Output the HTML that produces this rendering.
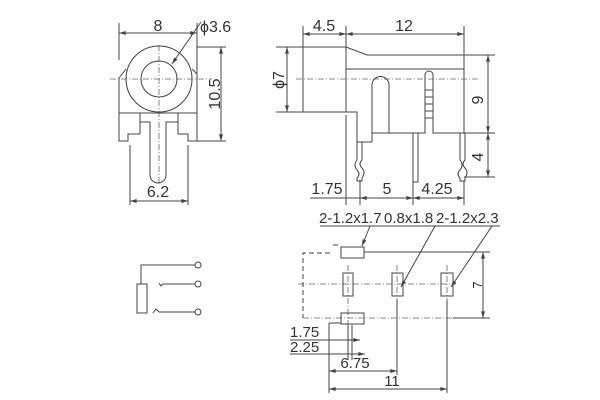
<!DOCTYPE html>
<html><head><style>html,body{margin:0;padding:0;background:#fff}svg{display:block}</style></head><body>
<svg width="600" height="400" viewBox="0 0 600 400" xmlns="http://www.w3.org/2000/svg" font-family="Liberation Sans, sans-serif" fill="none" stroke="#444" stroke-width="1">
<defs><marker id="a" viewBox="0 0 10 6" refX="10" refY="3" markerWidth="8" markerHeight="4" orient="auto-start-reverse"><path d="M0,0L10,3L0,6z" fill="#444" stroke="none"/></marker></defs>
<g stroke-dasharray="6,2,1,2" stroke="#666" stroke-width="0.8">
<line x1="159" y1="45" x2="159" y2="185"/><line x1="110" y1="79" x2="212" y2="79"/>
<line x1="296" y1="79" x2="478" y2="79"/>
<line x1="298" y1="284" x2="456" y2="284"/><line x1="303" y1="318" x2="490" y2="318"/>
<line x1="348" y1="265" x2="348" y2="330"/><line x1="397" y1="265" x2="397" y2="330"/><line x1="447" y1="265" x2="447" y2="330"/>
</g>
<!-- front view -->
<circle cx="159" cy="79" r="33"/><circle cx="159" cy="79" r="18"/>
<path d="M119,113V78L126,69M197,47V113M192,69L197,74M119,113H197"/>
<path d="M119,113V141H128V134H140V122H150V175A8,8 0 0 0 166,175V122H178V134H188V141H197V113M140,113V122M178,113V122"/>
<path d="M119,23V60M197,23V60M119,33H197M197,47H226M197,141H226M221,47V141M130,145V205M188,145V205M130,201H188" />
<line x1="119" y1="33" x2="197" y2="33" marker-start="url(#a)" marker-end="url(#a)"/>
<line x1="221" y1="47" x2="221" y2="141" marker-start="url(#a)" marker-end="url(#a)"/>
<line x1="130" y1="201" x2="188" y2="201" marker-start="url(#a)" marker-end="url(#a)"/>
<line x1="201" y1="22" x2="172" y2="64" marker-end="url(#a)"/>
<g fill="#333" stroke="none" font-size="16">
<text x="158" y="31" text-anchor="middle">8</text>
<text x="200" y="32">ϕ3.6</text>
<text x="158" y="197" text-anchor="middle">6.2</text>
<text transform="translate(220,94) rotate(-90)" text-anchor="middle">10.5</text>
</g>
<!-- side view -->
<path d="M303,47H346L367,55H464V133H433V75A4,4 0 0 0 425,75V133H372V142H357V112H303V47M346,55V112M346,69H464"/>
<path d="M372,133V85A8.5,8.5 0 0 1 389,85V133"/>
<path d="M425,90H433M425,97H433M425,104H433M425,111H433M425,118H433"/>
<path d="M357,142V160Q353,165 357,170Q361,174 357,178V181H362V178Q366,172 362,168Q358,164 362,160V142M413,133V182H418V133M460,133V160Q464,165 460,170Q456,174 460,178V181H465V178Q469,172 465,168Q461,164 465,160V133"/>
<path d="M303,26V47M346,26V112M464,26V55M303,34H464M276,47H303M276,112H303M287,47V112M464,55H495M464,133H495M464,177H495M488,55V177M346,115V205M360,180V205M413,182V205M464,181V205M310,198H464"/>
<line x1="303" y1="34" x2="346" y2="34" marker-start="url(#a)" marker-end="url(#a)"/>
<line x1="346" y1="34" x2="464" y2="34" marker-start="url(#a)" marker-end="url(#a)"/>
<line x1="287" y1="47" x2="287" y2="112" marker-start="url(#a)" marker-end="url(#a)"/>
<line x1="488" y1="55" x2="488" y2="133" marker-start="url(#a)" marker-end="url(#a)"/>
<line x1="488" y1="133" x2="488" y2="177" marker-start="url(#a)" marker-end="url(#a)"/>
<line x1="360" y1="198" x2="413" y2="198" marker-start="url(#a)" marker-end="url(#a)"/>
<line x1="413" y1="198" x2="464" y2="198" marker-start="url(#a)" marker-end="url(#a)"/>
<g fill="#333" stroke="none" font-size="16">
<text x="324" y="31" text-anchor="middle">4.5</text>
<text x="404" y="31" text-anchor="middle">12</text>
<text transform="translate(284,80) rotate(-90)" text-anchor="middle">ϕ7</text>
<text transform="translate(483,100) rotate(-90)" text-anchor="middle">9</text>
<text transform="translate(483,157) rotate(-90)" text-anchor="middle">4</text>
<text x="327" y="194" text-anchor="middle">1.75</text>
<text x="387" y="194" text-anchor="middle">5</text>
<text x="437" y="194" text-anchor="middle">4.25</text>
</g>
<!-- footprint -->
<path d="M330,253H303V318" stroke-dasharray="5,3"/>
<path d="M333,245H341" stroke-dasharray="5,3"/>
<rect x="341" y="247" width="23" height="11"/><rect x="341" y="313" width="23" height="11"/>
<rect x="343" y="273" width="10" height="23"/><rect x="392" y="273" width="11" height="23"/><rect x="441" y="273" width="12" height="23"/>
<path d="M364,252H490M453,318H490M483,252V318M329,323V393M329,323H341M397,300V375M447,300V393M348,325V360M352,325V360M320,226H500"/>
<line x1="483" y1="252" x2="483" y2="318" marker-start="url(#a)" marker-end="url(#a)"/>
<line x1="290" y1="340" x2="360" y2="340" marker-end="url(#a)"/>
<line x1="290" y1="354" x2="365" y2="354" marker-end="url(#a)"/>
<line x1="329" y1="371" x2="397" y2="371" marker-start="url(#a)" marker-end="url(#a)"/>
<line x1="329" y1="389" x2="447" y2="389" marker-start="url(#a)" marker-end="url(#a)"/>
<line x1="370" y1="226" x2="362" y2="246" marker-end="url(#a)"/>
<line x1="435" y1="226" x2="401" y2="287" marker-end="url(#a)"/>
<line x1="492" y1="226" x2="451" y2="287" marker-end="url(#a)"/>
<g fill="#333" stroke="none" font-size="15">
<text x="319" y="223">2-1.2x1.7</text>
<text x="384" y="223">0.8x1.8</text>
<text x="436" y="223">2-1.2x2.3</text>
<text transform="translate(482,285) rotate(-90)" text-anchor="middle" font-size="13">7</text>
<text x="290" y="337">1.75</text>
<text x="290" y="352">2.25</text>
<text x="355" y="368" text-anchor="middle">6.75</text>
<text x="392" y="386" text-anchor="middle">11</text>
</g>
<!-- schematic -->
<rect x="137" y="284" width="10" height="29"/>
<path d="M141,284V265H195M159,283L161,286L163,284H195M153,313L156,309L159,312H195"/>
<circle cx="198" cy="265" r="3"/><circle cx="198" cy="284" r="3"/><circle cx="198" cy="312" r="3"/>
</svg>
</body></html>
